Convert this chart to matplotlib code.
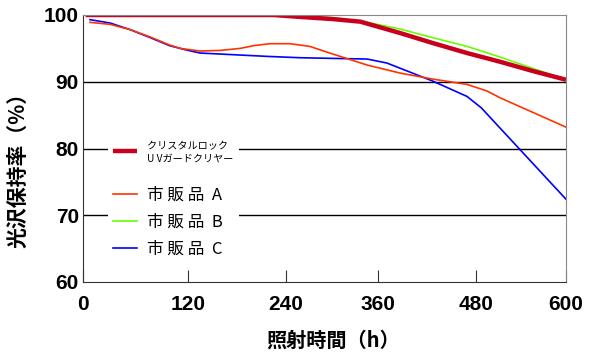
import numpy as np
import matplotlib
matplotlib.use("Agg")
import matplotlib.pyplot as plt

plt.rcParams['font.family'] = ['Noto Sans CJK JP', 'DejaVu Sans']

# 読み取り値（照射時間 h, 光沢保持率 %）
crystal_h = [3, 120, 225, 260, 300, 337, 387, 427, 469, 512, 556, 600]
crystal_v = [100, 100, 100, 99.7, 99.4, 99.0, 97.3, 95.8, 94.3, 93.0, 91.6, 90.3]

a_h = [8, 31, 54, 77, 99, 111, 135, 160, 184, 200, 220, 245, 271, 297, 346, 387, 427, 469, 495, 512, 556, 600]
a_v = [98.9, 98.6, 97.8, 96.7, 95.5, 95.0, 94.6, 94.7, 95.0, 95.4, 95.7, 95.7, 95.3, 94.3, 92.5, 91.3, 90.4, 89.6, 88.6, 87.6, 85.4, 83.2]

b_h = [3, 120, 240, 300, 346, 387, 427, 469, 512, 556, 600]
b_v = [100, 100, 100, 99.6, 98.9, 97.9, 96.6, 95.3, 93.7, 92.0, 90.3]

c_h = [8, 31, 54, 77, 99, 120, 135, 184, 217, 258, 301, 346, 371, 398, 427, 469, 487, 600]
c_v = [99.3, 98.8, 97.8, 96.6, 95.4, 94.7, 94.3, 94.0, 93.8, 93.6, 93.5, 93.4, 92.8, 91.5, 90.1, 87.8, 86.1, 72.4]

x_ticks = [0, 120, 240, 360, 480, 600]
y_ticks = [60, 70, 80, 90, 100]
labels = ['\nクリスタルロック\nU Vガードクリヤー\n', '市 販 品  A', '市 販 品  B', '市 販 品  C']

# 元図の横軸は目盛り間隔が不均一
tick_frac = np.array([0, 105, 203, 295, 393, 483]) / 483.0


def fwd(x):
    return np.interp(x, x_ticks, tick_frac)


def inv(f):
    return np.interp(f, tick_frac, x_ticks)


fig = plt.figure(figsize=(6, 3.54), dpi=100)
ax = fig.add_axes([83 / 600, 1 - 282 / 354, 483 / 600, 267 / 354])
ax.set_xscale('function', functions=(fwd, inv))

lc, = ax.plot(c_h, c_v, color='#0000ff', lw=1.2)
lb, = ax.plot(b_h, b_v, color='#66ff00', lw=1.2)
la, = ax.plot(a_h, a_v, color='#ff3300', lw=1.2)
lk, = ax.plot(crystal_h, crystal_v, color='#c8001e', lw=3.2, solid_capstyle='butt')

ax.set_xlim(0, 600)
ax.set_ylim(60, 100)
ax.set_xticks(x_ticks)
ax.set_yticks(y_ticks)
ax.grid(axis='y', color='black', lw=1)
gl = ax.get_ygridlines()
gl[0].set_visible(False)
gl[-1].set_visible(False)
ax.set_axisbelow(True)

for s in ['left', 'bottom']:
    ax.spines[s].set_color('#333333')
for s in ['top', 'right']:
    ax.spines[s].set_color('#888888')

ax.tick_params(axis='x', direction='in', length=9, color='#333333', pad=9)
ax.tick_params(axis='y', length=0, pad=3)
for t in ax.get_xticklabels() + ax.get_yticklabels():
    t.set_fontfamily('Liberation Sans')
    t.set_fontweight('bold')
    t.set_fontsize(15)

ax.set_xlabel('照射時間（h）', fontsize=14.5, fontweight='bold')
ax.xaxis.set_label_coords(0.518, -0.178)
ax.set_ylabel('光沢保持率（%）', fontsize=15, fontweight='bold')
ax.yaxis.set_label_coords(-0.113, 0.44)

leg = ax.legend([lk, la, lb, lc], labels, loc='upper left',
                bbox_to_anchor=(0.052, 0.593), borderaxespad=0,
                prop={'size': 12}, handlelength=1.45, handletextpad=0.6,
                borderpad=0.3, labelspacing=0.6, frameon=True,
                fancybox=False, framealpha=1, facecolor='white',
                edgecolor='none')
t0 = leg.get_texts()[0]
t0.set_fontsize(7.3)
t0.set_linespacing(1.32)

fig.savefig('out.png', dpi=100)
